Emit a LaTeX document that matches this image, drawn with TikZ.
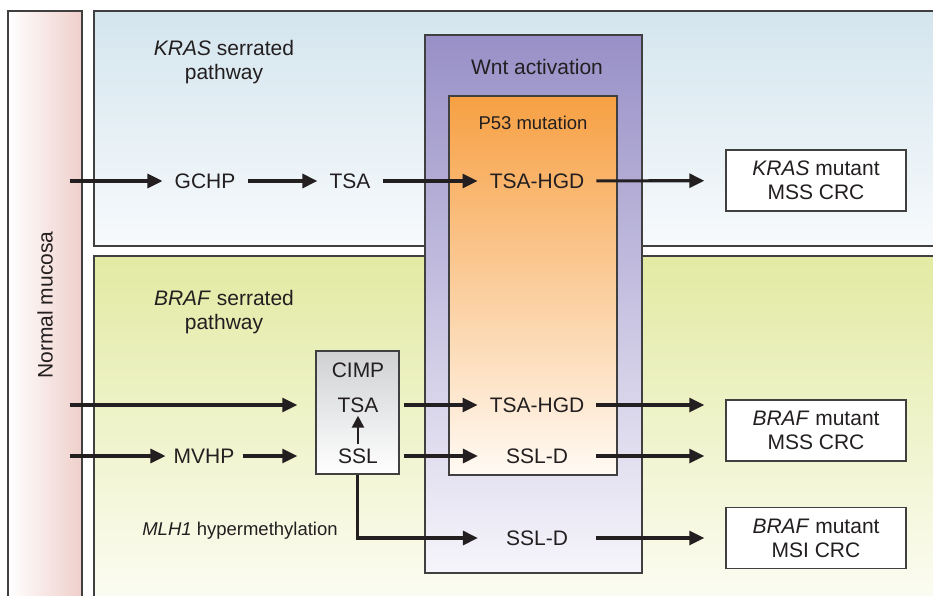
\documentclass[tikz,border=0pt]{standalone}
\usepackage{fontspec}
\setmainfont{Liberation Sans}
\usetikzlibrary{arrows.meta}
\definecolor{ink}{HTML}{231F20}
\definecolor{edge}{HTML}{404040}
\definecolor{mucR}{HTML}{EFCFCA}
\definecolor{blueT}{HTML}{D4E5EE}
\definecolor{blueB}{HTML}{F7FAFC}
\definecolor{greenT}{HTML}{E2EAA3}
\definecolor{greenB}{HTML}{FDFDF6}
\definecolor{wntT}{HTML}{9890C7}
\definecolor{wntB}{HTML}{F6F5FB}
\definecolor{p53T}{HTML}{F7A043}
\definecolor{p53B}{HTML}{FFFAF4}
\definecolor{cimpT}{HTML}{CFD1D3}
\tikzset{
  panel/.style={draw=edge, line width=1.8pt},
  region/.style={draw=edge, line width=1.4pt, inner sep=0pt},
  lbl/.style={text=ink, inner xsep=12pt, inner ysep=2pt, text height=15pt, text depth=0pt},
  plain/.style={text=ink, inner sep=0pt, align=center},
  res/.style={draw=edge, line width=1.4pt, fill=white, text=ink, minimum width=180pt,
    minimum height=61pt, align=center, inner sep=0pt},
  arr/.style={-{Triangle[length=15pt,width=14pt]}, line width=3.1pt, draw=ink},
  uparr/.style={-{Triangle[length=12pt,width=12pt]}, line width=2.6pt, draw=ink},
}
\begin{document}
\begin{tikzpicture}[x=1pt,y=-1pt, font=\fontsize{21pt}{24pt}\selectfont]
\useasboundingbox (0,0) rectangle (933,596);
\clip (0,0) rectangle (933,596);
% background panels
\fill[white] (0,0) rectangle (933,596);
\draw[panel, top color=blueT, bottom color=blueB] (94,11) rectangle (950,246);
\draw[panel, top color=greenT, bottom color=greenB] (94,256) rectangle (950,615);
\draw[panel, left color=white, right color=mucR] (8,11) rectangle (82,615);
\node[plain, rotate=90] (mucosa) at (45,305) {Normal mucosa};
% Wnt and P53 regions
\node[region, top color=wntT, bottom color=wntB, minimum width=217pt, minimum height=538pt] (wnt) at (533.5,304) {};
\node[region, top color=p53T, bottom color=p53B, minimum width=168pt, minimum height=379pt] (p53) at (533,285.5) {};
\node[plain] (wntl) at (537,67) {Wnt activation};
\node[plain, font=\fontsize{18.5pt}{22pt}\selectfont] (p53l) at (533,123) {P53 mutation};
% pathway labels
\node[plain] (kraspath) at (224,62) {\textit{KRAS} serrated\\pathway};
\node[plain] (brafpath) at (224,312) {\textit{BRAF} serrated\\pathway};
\node[plain, font=\fontsize{18.5pt}{22pt}\selectfont] (mlh) at (240,531) {\textit{MLH1} hypermethylation};
% KRAS row
\coordinate (s1) at (70,181);
\node[lbl] (gchp) at (205,181) {GCHP};
\node[lbl] (tsa1) at (350,181) {TSA};
\node[lbl] (hgd1) at (537,181) {TSA-HGD};
\node[res] (kras) at (816,180.5) {\textit{KRAS} mutant\\MSS CRC};
\draw[arr] (s1) -- (gchp);
\draw[arr] (gchp) -- (tsa1);
\draw[arr] (tsa1) -- (hgd1);
\draw[arr, shorten >=21pt] (hgd1) -- (kras);
% BRAF rows
\node[draw=edge, line width=1.4pt, top color=cimpT, bottom color=white,
      minimum width=83pt, minimum height=123pt, inner sep=0pt] (cimp) at (357.5,412.5) {};
\node[lbl] (cimpl) at (358,370) {CIMP};
\node[lbl] (tsa2) at (358,405) {TSA};
\node[lbl] (ssl) at (358,456) {SSL};
\coordinate (s2) at (70,405);
\coordinate (s3) at (70,456);
\node[lbl, inner xsep=8pt] (mvhp) at (204,456) {MVHP};
\node[lbl] (hgd2) at (537,405) {TSA-HGD};
\node[lbl, inner xsep=28pt] (ssld1) at (537,456) {SSL-D};
\node[lbl, inner xsep=28pt] (ssld2) at (537,538) {SSL-D};
\node[res] (mss) at (816,430.5) {\textit{BRAF} mutant\\MSS CRC};
\node[res] (msi) at (816,538) {\textit{BRAF} mutant\\MSI CRC};
\draw[arr, shorten >=18pt] (s2) -- (s2 -| cimp.west);
\draw[arr] (s3) -- (mvhp);
\draw[arr, shorten >=18pt] (mvhp) -- (mvhp -| cimp.west);
\draw[uparr, shorten <=2pt, shorten >=1pt] (ssl.north) -- (tsa2.south);
\draw[arr, shorten <=4pt] (cimp.east |- tsa2) -- (hgd2);
\draw[arr, shorten <=4pt] (cimp.east |- ssl) -- (ssld1);
\draw[arr, shorten >=21pt] (hgd2) -- (hgd2 -| mss.west);
\draw[arr, shorten >=21pt] (ssld1) -- (ssld1 -| mss.west);
\draw[arr] (cimp.south) |- (ssld2);
\draw[arr, shorten >=21pt] (ssld2) -- (msi);
\end{tikzpicture}
\end{document}
